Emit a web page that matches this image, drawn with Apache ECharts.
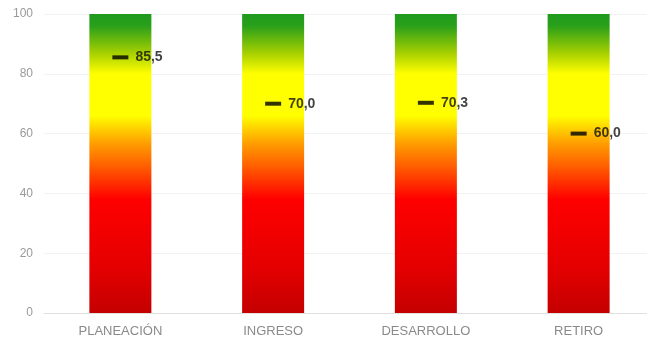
<!DOCTYPE html>
<html><head><meta charset="utf-8">
<script src="https://cdn.jsdelivr.net/npm/echarts@6/dist/echarts.min.js"></script>
<style>html,body{margin:0;padding:0;background:#fff}#c{width:647px;height:343px}</style>
</head><body><div id="c"></div>
<script>
const categories = ['PLANEACIÓN', 'INGRESO', 'DESARROLLO', 'RETIRO'];
const scores = [85.5, 70.0, 70.3, 60.0];
const barTotals = [100, 100, 100, 100];
const yTicks = [0, 20, 40, 60, 80, 100];

const chart = echarts.init(document.getElementById('c'));
const grad = new echarts.graphic.LinearGradient(0, 0, 0, 1, [
  { offset: 0, color: '#1f9a1f' },
  { offset: 0.04, color: '#2aa01a' },
  { offset: 0.13, color: '#a5cf00' },
  { offset: 0.2, color: '#ffff00' },
  { offset: 0.34, color: '#ffff00' },
  { offset: 0.43, color: '#ffa000' },
  { offset: 0.52, color: '#ff5500' },
  { offset: 0.62, color: '#ff0000' },
  { offset: 0.85, color: '#e40000' },
  { offset: 1, color: '#c40000' }
]);
chart.setOption({
  animation: false,
  backgroundColor: '#fff',
  grid: { left: 44, right: -8, top: 14, bottom: 30, outerBoundsMode: 'none', containLabel: false },
  xAxis: {
    type: 'category',
    data: categories,
    axisTick: { show: false },
    axisLine: { lineStyle: { color: '#e0e0e0' } },
    axisLabel: { color: '#8a8a8a', fontSize: 13, margin: 12, fontFamily: 'Liberation Sans' }
  },
  yAxis: {
    type: 'value',
    min: yTicks[0],
    max: yTicks[yTicks.length - 1],
    interval: yTicks[1] - yTicks[0],
    axisLine: { show: false },
    axisTick: { show: false },
    splitLine: { lineStyle: { color: '#f2f2f2' } },
    axisLabel: { color: '#9a9a9a', fontSize: 12, margin: 11, fontFamily: 'Liberation Sans' }
  },
  series: [
    {
      type: 'bar',
      data: barTotals,
      barWidth: 62,
      itemStyle: { color: grad },
      silent: true
    },
    {
      type: 'scatter',
      data: scores,
      symbol: 'rect',
      symbolSize: [16, 4],
      itemStyle: { color: '#000' },
      z: 5,
      label: {
        show: true,
        position: 'right',
        distance: 7,
        color: '#111',
        fontWeight: 'bold',
        fontSize: 14,
        fontFamily: 'Liberation Sans',
        formatter: p => p.value.toFixed(1).replace('.', ',')
      }
    }
  ]
});
</script></body></html>
